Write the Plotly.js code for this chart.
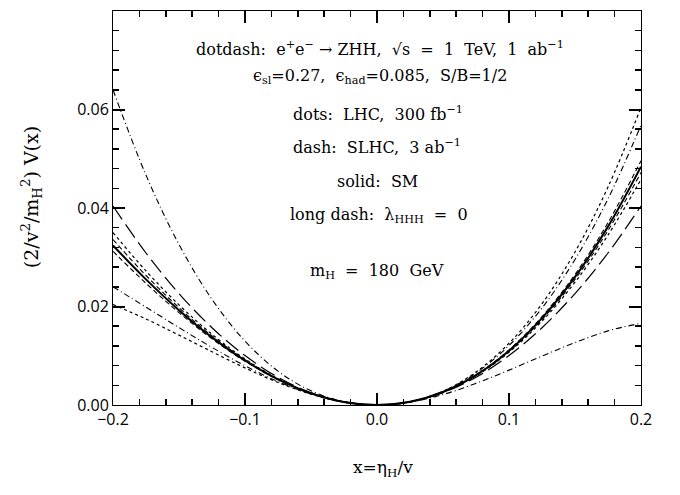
<!DOCTYPE html>
<html>
<head>
<meta charset="utf-8">
<script src="https://cdn.plot.ly/plotly-3.0.1.min.js"></script>
<style>html,body{margin:0;padding:0;background:#fff;}#plot{width:680px;height:495px;}</style>
</head>
<body>
<div id="plot"></div>
<script>
const xVals = [-0.2,-0.175,-0.15,-0.125,-0.1,-0.075,-0.05,-0.025,0,0.025,0.05,0.075,0.1,0.125,0.15,0.175,0.2];

const smSolid   = [0.0324,0.0255,0.01925,0.01373,0.00903,0.00521,0.00238,0.00061,0,0.00064,0.00263,0.00606,0.01103,0.01764,0.0260,0.03622,0.0484];
const longDash  = [0.0404,0.03086,0.02263,0.01569,0.01003,0.00563,0.0025,0.00063,0,0.00063,0.0025,0.00563,0.01003,0.01569,0.02263,0.03086,0.0404];
const dotdashA  = [0.0640,0.04667,0.03259,0.02145,0.01298,0.00687,0.00287,0.00068,0,0.00058,0.00213,0.00439,0.00708,0.00993,0.01267,0.01505,0.0166];
const dotdashB  = [0.0240,0.01987,0.01571,0.01169,0.00798,0.00476,0.00224,0.0006,0,0.00066,0.00276,0.0065,0.01208,0.01969,0.02955,0.04185,0.0568];
const dotsA     = [0.0350,0.02722,0.02033,0.01436,0.00935,0.00534,0.00241,0.00062,0,0.00064,0.00259,0.00592,0.01071,0.01702,0.02493,0.0345,0.0458];
const dotsB     = [0.0204,0.01746,0.01419,0.01081,0.00753,0.00457,0.00219,0.00059,0,0.00066,0.00281,0.00669,0.01253,0.02057,0.03107,0.04426,0.0604];
const dashA     = [0.0336,0.0263,0.01976,0.01403,0.00918,0.00527,0.00239,0.00061,0,0.00064,0.00261,0.00599,0.01088,0.01735,0.0255,0.03542,0.0472];
const dashB     = [0.0312,0.0247,0.01875,0.01344,0.00888,0.00514,0.00236,0.00061,0,0.00064,0.00264,0.00612,0.01118,0.01794,0.02651,0.03702,0.0496];

const xTickStep = 0.1, xMinorStep = 0.02;
const yTickStep = 0.02, yMinorStep = 0.004;

const xTitle = 'x=\u03B7<sub>H</sub>/v';
const yTitle = '(2/v<sup>2</sup>/m<sub>H</sub><sup>2</sup>) V(x)';

const labels = [
  'dotdash:  e<sup>+</sup>e<sup>\u2212</sup> \u2192 ZHH,  \u221As  =  1  TeV,  1  ab<sup>\u22121</sup>',
  '\u03F5<sub>sl</sub>=0.27,  \u03F5<sub>had</sub>=0.085,  S/B=1/2',
  'dots:  LHC,  300 fb<sup>\u22121</sup>',
  'dash:  SLHC,  3 ab<sup>\u22121</sup>',
  'solid:  SM',
  'long dash:  \u03BB<sub>HHH</sub>  =  0',
  'm<sub>H</sub>  =  180  GeV'
];
const labelX = [0.506,0.506,0.502,0.500,0.500,0.504,0.500];
const labelY = [0.906,0.834,0.741,0.655,0.567,0.481,0.338];

function tr(y, dash, w) {
  return {x: xVals, y: y, type: 'scatter', mode: 'lines', showlegend: false,
    line: {color: '#000', width: w, dash: dash, shape: 'spline'}};
}
const data = [
  tr(dotsA, 'dot', 1.2), tr(dotsB, 'dot', 1.2),
  tr(dashA, '5px,3px', 1.1), tr(dashB, '5px,3px', 1.1),
  tr(dotdashA, '6px,3px,1px,3px', 1.1), tr(dotdashB, '6px,3px,1px,3px', 1.1),
  tr(longDash, '16px,6px', 1.2),
  tr(smSolid, 'solid', 2)
];

const serif = {family: 'DejaVu Serif', size: 16, color: '#000'};
const annotations = labels.map((t,i) => ({
  text: t, x: labelX[i], y: labelY[i], xref: 'paper', yref: 'paper',
  xanchor: 'center', yanchor: 'middle', showarrow: false, font: serif
}));
annotations.push({text: xTitle, x: 0.511, y: -0.160, xref: 'paper', yref: 'paper',
  xanchor: 'center', yanchor: 'middle', showarrow: false,
  font: {family: 'DejaVu Serif', size: 17, color: '#000'}});
annotations.push({text: yTitle, x: -0.153, y: 0.528, xref: 'paper', yref: 'paper',
  xanchor: 'center', yanchor: 'middle', showarrow: false, textangle: -90,
  font: {family: 'DejaVu Serif', size: 19, color: '#000'}});

const layout = {
  width: 680, height: 495,
  margin: {l: 113, r: 39, t: 11, b: 90},
  xaxis: {
    range: [-0.2, 0.2], dtick: xTickStep, tickformat: '.1f',
    showline: true, linecolor: 'black', mirror: 'allticks',
    ticks: 'inside', ticklen: 12, tickwidth: 2, tickcolor: 'black',
    showgrid: false, zeroline: false,
    tickfont: {size: 16, color: 'black'},
    minor: {ticks: 'inside', ticklen: 6, tickwidth: 1.5, tickcolor: 'black', dtick: xMinorStep}
  },
  yaxis: {
    range: [0, 0.08], dtick: yTickStep, tickformat: '.2f',
    showline: true, linecolor: 'black', mirror: 'allticks',
    ticks: 'inside', ticklen: 12, tickwidth: 2, tickcolor: 'black',
    showgrid: false, zeroline: false,
    tickfont: {size: 16, color: 'black'},
    minor: {ticks: 'inside', ticklen: 6, tickwidth: 1.5, tickcolor: 'black', dtick: yMinorStep}
  },
  annotations: annotations
};

Plotly.newPlot('plot', data, layout, {staticPlot: true, displayModeBar: false});
</script>
</body>
</html>
